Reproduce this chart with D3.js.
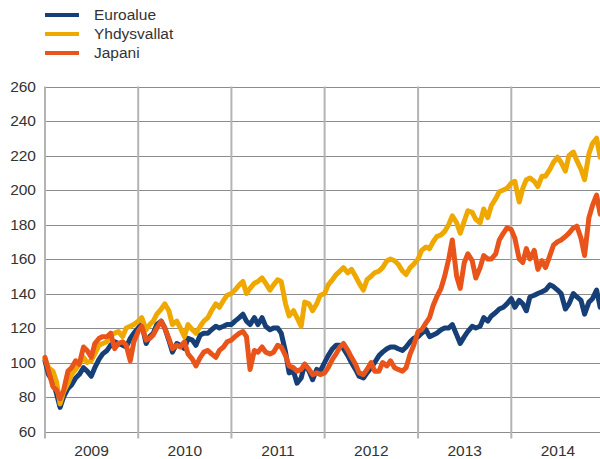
<!DOCTYPE html>
<html><head><meta charset="utf-8">
<script src="https://cdn.jsdelivr.net/npm/d3@7"></script>
<style>
html,body{margin:0;padding:0;background:#fff;}
svg{display:block;font-family:"Liberation Sans",Arial,sans-serif;}
</style></head>
<body><svg id="c" width="600" height="459"></svg>
<script>
const seriesNames = ["Euroalue", "Yhdysvallat", "Japani"];
const seriesColors = ["#173f77", "#efa800", "#e8541a"];
const years = [2009, 2010, 2011, 2012, 2013, 2014];
const yTicks = [60, 80, 100, 120, 140, 160, 180, 200, 220, 240, 260];
const sampleDays = ["01", "15"];

const euroalue = [
  101, 93, 89, 82, 74, 80, 85, 87, 91, 93, 97, 95, 92, 97, 102, 105, 107, 110, 112, 111, 110, 109, 114, 117,
  120, 122, 111, 115, 117, 122, 124, 120, 113, 106, 111, 110, 108, 114, 113, 110, 116, 117, 117, 119, 121, 120, 121, 122,
  122, 124, 126, 128, 124, 122, 126, 122, 126, 121, 119, 120, 120, 117, 106, 94, 95, 88, 91, 99, 95, 90, 96, 95,
  100, 104, 108, 110, 110, 108, 104, 100, 96, 92, 91, 94, 97, 100, 104, 106, 108, 109, 109, 108, 107, 109, 112, 114,
  115, 117, 119, 115, 116, 117, 119, 120, 120, 122, 116, 111, 115, 118, 121, 120, 121, 126, 124, 127, 129, 131, 132, 134,
  137, 132, 136, 134, 130, 138, 139, 140, 141, 142, 145, 144, 142, 140, 131, 134, 140, 138, 136, 128, 135, 137, 142, 132
];
const yhdysvallat = [
  102, 97, 95, 89, 76, 83, 88, 93, 96, 99, 103, 100, 101, 105, 110, 111, 112, 116, 117, 118, 115, 120, 121, 122,
  124, 126, 119, 122, 124, 128, 131, 134, 130, 122, 124, 120, 115, 122, 119, 117, 121, 124, 126, 130, 134, 132, 136, 139,
  140, 142, 145, 147, 140, 143, 146, 147, 149, 146, 142, 145, 148, 147, 134, 127, 130, 126, 121, 135, 134, 130, 134, 139,
  140, 145, 148, 151, 153, 155, 152, 154, 150, 146, 142, 148, 150, 152, 153, 155, 159, 160, 159, 157, 153, 151, 155, 157,
  160, 165, 167, 166, 170, 173, 174, 176, 180, 185, 181, 175, 182, 188, 187, 183, 181, 189, 184, 191, 195, 199, 200, 201,
  204, 205, 193, 201, 206, 207, 205, 202, 208, 208, 212, 216, 219, 216, 211, 220, 222, 217, 212, 206, 221, 227, 230, 219
];
const japani = [
  103, 95, 86, 84, 79, 84, 95, 97, 101, 99, 109, 107, 103, 111, 114, 115, 115, 117, 108, 111, 112, 110, 101, 112,
  118, 121, 113, 114, 116, 120, 124, 120, 114, 108, 110, 109, 112, 105, 102, 98, 103, 106, 107, 105, 103, 107, 109, 112,
  113, 115, 117, 118, 115, 96, 107, 106, 109, 106, 105, 106, 110, 109, 104, 98, 97, 95, 96, 99, 96, 93, 94, 93,
  94, 97, 102, 105, 109, 111, 107, 103, 99, 94, 93, 96, 100, 95, 95, 100, 98, 101, 97, 96, 95, 97, 105, 110,
  118, 119, 123, 126, 133, 138, 143, 150, 160, 171, 150, 143, 158, 163, 159, 149, 155, 162, 160, 160, 163, 171, 175, 178,
  177, 172, 160, 158, 166, 160, 165, 154, 159, 155, 162, 168, 170, 171, 173, 175, 178, 179, 172, 162, 184, 191, 197, 186
];
const seriesValues = [euroalue, yhdysvallat, japani];

// sampling dates: 1st and 15th of every month
const parse = d3.utcParse("%Y-%m-%d");
const dates = years.flatMap(y => d3.range(1, 13).flatMap(m =>
  sampleDays.map(d => parse(`${y}-${String(m).padStart(2, "0")}-${d}`))));

const svg = d3.select("#c");
const x = d3.scaleUtc().domain([parse("2009-01-01"), parse("2015-01-01")]).range([45, 604.5]);
const y = d3.scaleLinear().domain([60, 260]).range([431.5, 86.5]);

// horizontal grid
svg.append("g").selectAll("line").data(yTicks).join("line")
  .attr("x1", 45).attr("x2", 600)
  .attr("y1", d => Math.round(y(d)) + 0.5).attr("y2", d => Math.round(y(d)) + 0.5)
  .attr("stroke", "#8c8c8c").attr("stroke-width", 1);

// vertical grid (year boundaries)
const yearStarts = years.map(yr => parse(`${yr}-01-01`));
svg.append("g").selectAll("line").data(yearStarts).join("line")
  .attr("x1", d => x(d)).attr("x2", d => x(d))
  .attr("y1", y(260)).attr("y2", y(60) + 7)
  .attr("stroke", "#b4b4b4").attr("stroke-width", 2);

// y labels
svg.append("g").selectAll("text").data(yTicks).join("text")
  .attr("x", 36).attr("y", d => y(d)).attr("dy", "0.35em")
  .attr("text-anchor", "end").attr("font-size", 15.5).attr("fill", "#333")
  .text(d => d);

// x labels (centered in year)
svg.append("g").selectAll("text").data(years).join("text")
  .attr("x", yr => (x(parse(`${yr}-01-01`)) + x(parse(`${yr + 1}-01-01`))) / 2)
  .attr("y", 456).attr("text-anchor", "middle")
  .attr("font-size", 15.5).attr("fill", "#333")
  .text(d => d);

// lines
const line = d3.line().x((d, i) => x(dates[i])).y(d => y(d)).curve(d3.curveLinear);
svg.append("defs").append("clipPath").attr("id", "clip")
  .append("rect").attr("x", 40).attr("y", 80).attr("width", 560).attr("height", 360);
svg.append("g").attr("clip-path", "url(#clip)")
  .selectAll("path").data(seriesValues).join("path")
  .attr("d", d => line(d))
  .attr("fill", "none")
  .attr("stroke", (d, i) => seriesColors[i])
  .attr("stroke-width", 5)
  .attr("stroke-linejoin", "round").attr("stroke-linecap", "round");

// legend
const lg = svg.append("g").selectAll("g").data(seriesNames).join("g")
  .attr("transform", (d, i) => `translate(0, ${15 + i * 19})`);
lg.append("line").attr("x1", 45).attr("x2", 79).attr("y1", 0).attr("y2", 0)
  .attr("stroke", (d, i) => seriesColors[i]).attr("stroke-width", 4);
lg.append("text").attr("x", 94).attr("y", 0).attr("dy", "0.35em")
  .attr("font-size", 15.5).attr("fill", "#333").text(d => d);
</script>
</body></html>
